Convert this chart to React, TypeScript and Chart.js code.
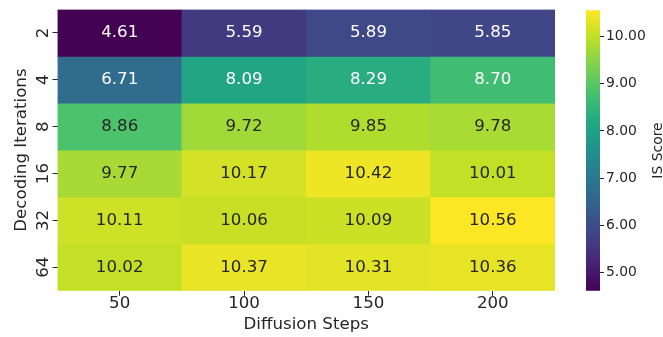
import { useEffect, useRef } from 'react';
import { Chart, registerables } from 'chart.js';

Chart.register(...registerables);

// Axes
const diffusionSteps = [50, 100, 150, 200];
const decodingIterations = [2, 4, 8, 16, 32, 64];

// IS score per decoding-iteration row, one value per diffusion-step column
const isIter2 = [4.61, 5.59, 5.89, 5.85];
const isIter4 = [6.71, 8.09, 8.29, 8.7];
const isIter8 = [8.86, 9.72, 9.85, 9.78];
const isIter16 = [9.77, 10.17, 10.42, 10.01];
const isIter32 = [10.11, 10.06, 10.09, 10.56];
const isIter64 = [10.02, 10.37, 10.31, 10.36];
const isScoreRows = [isIter2, isIter4, isIter8, isIter16, isIter32, isIter64];

// Colour scale range and colorbar ticks
const scoreMin = 4.61;
const scoreMax = 10.56;
const colorbarTicks = [5, 6, 7, 8, 9, 10];

const FAMILY = "'DejaVu Sans', 'Liberation Sans', sans-serif";
const INK = '#262626';

const VIRIDIS = [
  '#440154', '#482475', '#414487', '#355f8d', '#2a788e', '#21918c',
  '#22a884', '#44bf70', '#7ad151', '#bddf26', '#fde725',
];

function hexToRgb(h: string): number[] {
  return [1, 3, 5].map((i) => parseInt(h.slice(i, i + 2), 16));
}

function viridis(t: number): number[] {
  const c = Math.max(0, Math.min(1, t));
  const p = c * (VIRIDIS.length - 1);
  const i = Math.min(Math.floor(p), VIRIDIS.length - 2);
  const f = p - i;
  const a = hexToRgb(VIRIDIS[i]);
  const b = hexToRgb(VIRIDIS[i + 1]);
  return a.map((v, k) => v + (b[k] - v) * f);
}

const norm = (v: number) => (v - scoreMin) / (scoreMax - scoreMin);
const rgbStr = (c: number[]) => `rgb(${c.map((v) => Math.round(v)).join(',')})`;

function luminance(c: number[]): number {
  const lin = c.map((v) => {
    const s = v / 255;
    return s <= 0.03928 ? s / 12.92 : Math.pow((s + 0.055) / 1.055, 2.4);
  });
  return 0.2126 * lin[0] + 0.7152 * lin[1] + 0.0722 * lin[2];
}

// Writes the score in the middle of every cell
const cellLabels = {
  id: 'cellLabels',
  afterDatasetsDraw(chart: any) {
    const { ctx } = chart;
    ctx.save();
    ctx.font = `16.67px ${FAMILY}`;
    ctx.textAlign = 'center';
    ctx.textBaseline = 'middle';
    chart.data.datasets.forEach((ds: any, di: number) => {
      const meta = chart.getDatasetMeta(di);
      meta.data.forEach((bar: any, j: number) => {
        const v = ds.scores[j];
        const lum = luminance(viridis(norm(v)));
        ctx.fillStyle = lum > 0.408 ? INK : '#ffffff';
        const cy = (bar.y + bar.base) / 2;
        ctx.fillText(v.toFixed(2), bar.x, cy);
      });
    });
    ctx.restore();
  },
};

// Rotated row labels placed on the y scale's tick positions
const rowLabels = {
  id: 'rowLabels',
  afterDraw(chart: any) {
    const { ctx } = chart;
    const ys = chart.scales.y;
    ctx.save();
    ctx.font = `16.67px ${FAMILY}`;
    ctx.fillStyle = INK;
    ctx.textAlign = 'center';
    ctx.textBaseline = 'alphabetic';
    ys.ticks.forEach((t: any, i: number) => {
      const py = ys.getPixelForValue(t.value);
      ctx.save();
      ctx.translate(47.5, py);
      ctx.rotate(-Math.PI / 2);
      ctx.fillText(String(decodingIterations[i]), 0, 0);
      ctx.restore();
    });
    ctx.restore();
  },
};

// Colorbar caption, reading bottom to top
const colorbarCaption = {
  id: 'colorbarCaption',
  afterDraw(chart: any) {
    const { ctx, chartArea } = chart;
    ctx.save();
    ctx.font = `13.9px ${FAMILY}`;
    ctx.fillStyle = INK;
    ctx.textAlign = 'center';
    ctx.textBaseline = 'alphabetic';
    ctx.translate(101.7, (chartArea.top + chartArea.bottom) / 2);
    ctx.rotate(-Math.PI / 2);
    ctx.fillText('IS Score', 0, 0);
    ctx.restore();
  },
};

export default function App() {
  const heatRef = useRef<HTMLCanvasElement>(null);
  const barRef = useRef<HTMLCanvasElement>(null);

  useEffect(() => {
    const nRows = decodingIterations.length;
    const font = { family: FAMILY, size: 16.67, lineHeight: 1 };

    const heat = new Chart(heatRef.current!, {
      type: 'bar',
      data: {
        labels: diffusionSteps.map(String),
        datasets: isScoreRows.map((row, r) => ({
          label: String(decodingIterations[r]),
          data: row.map(() => [nRows - 1 - r, nRows - r]),
          scores: row,
          backgroundColor: row.map((v) => rgbStr(viridis(norm(v)))),
          borderWidth: 0,
          barPercentage: 1,
          categoryPercentage: 1,
          grouped: false,
        })) as any,
      },
      options: {
        animation: false,
        responsive: false,
        layout: { padding: { left: 0, top: 9.5, right: 5, bottom: 0 } },
        plugins: { legend: { display: false }, tooltip: { enabled: false } },
        scales: {
          x: {
            type: 'category',
            offset: true,
            grid: {
              offset: false,
              drawOnChartArea: false,
              drawTicks: true,
              tickLength: 5,
              color: INK,
              lineWidth: 1,
            },
            border: { display: false },
            ticks: { font, color: INK, padding: 0, maxRotation: 0 },
            title: {
              display: true,
              text: 'Diffusion Steps',
              color: INK,
              font: { family: FAMILY, size: 16.67, lineHeight: 1.2 },
              padding: { top: 0, bottom: 2.5 },
            },
            afterFit: (s: any) => {
              s.height = 46.3;
            },
          },
          y: {
            type: 'linear',
            min: 0,
            max: nRows,
            afterBuildTicks: (s: any) => {
              s.ticks = decodingIterations.map((_, i) => ({ value: nRows - 0.5 - i }));
            },
            grid: {
              drawOnChartArea: false,
              drawTicks: true,
              tickLength: 5,
              color: INK,
              lineWidth: 1,
            },
            border: { display: false },
            ticks: { display: false },
            title: {
              display: true,
              text: 'Decoding Iterations',
              color: INK,
              font: { family: FAMILY, size: 16.67, lineHeight: 1.2 },
              padding: { top: 11.5, bottom: 0 },
            },
            afterFit: (s: any) => {
              s.width = 57.5;
            },
          },
        },
      } as any,
      plugins: [cellLabels, rowLabels],
    });

    const bar = new Chart(barRef.current!, {
      type: 'bar',
      data: {
        labels: [''],
        datasets: [
          {
            data: [[scoreMin, scoreMax]] as any,
            borderWidth: 0,
            barPercentage: 1,
            categoryPercentage: 1,
            backgroundColor: (c: any) => {
              const ch = c.chart;
              const ys = ch.scales.y;
              if (!ys || !ch.chartArea) return 'transparent';
              const g = ch.ctx.createLinearGradient(
                0,
                ys.getPixelForValue(scoreMin),
                0,
                ys.getPixelForValue(scoreMax)
              );
              VIRIDIS.forEach((col, i) => g.addColorStop(i / (VIRIDIS.length - 1), col));
              return g;
            },
          },
        ],
      },
      options: {
        animation: false,
        responsive: false,
        layout: { padding: { left: 26, top: 9.5, right: 0, bottom: 46.3 } },
        plugins: { legend: { display: false }, tooltip: { enabled: false } },
        scales: {
          x: { display: false },
          y: {
            position: 'right',
            min: scoreMin,
            max: scoreMax,
            afterBuildTicks: (s: any) => {
              s.ticks = colorbarTicks.map((v) => ({ value: v }));
            },
            grid: {
              drawOnChartArea: false,
              drawTicks: true,
              tickLength: 4,
              color: INK,
              lineWidth: 1,
            },
            border: { display: false },
            ticks: {
              font: { family: FAMILY, size: 13.9 },
              color: INK,
              padding: 2,
              callback: (v: any) => Number(v).toFixed(2),
            },
            afterFit: (s: any) => {
              s.width = 63;
            },
          },
        },
      } as any,
      plugins: [colorbarCaption],
    });

    return () => {
      heat.destroy();
      bar.destroy();
    };
  }, []);

  return (
    <div style={{ position: 'absolute', left: 0, top: 0, width: 663, height: 337, background: '#fff' }}>
      <canvas
        ref={heatRef}
        width={560}
        height={337}
        style={{ position: 'absolute', left: 0, top: 0, width: 560, height: 337 }}
      />
      <canvas
        ref={barRef}
        width={103}
        height={337}
        style={{ position: 'absolute', left: 560, top: 0, width: 103, height: 337 }}
      />
    </div>
  );
}
